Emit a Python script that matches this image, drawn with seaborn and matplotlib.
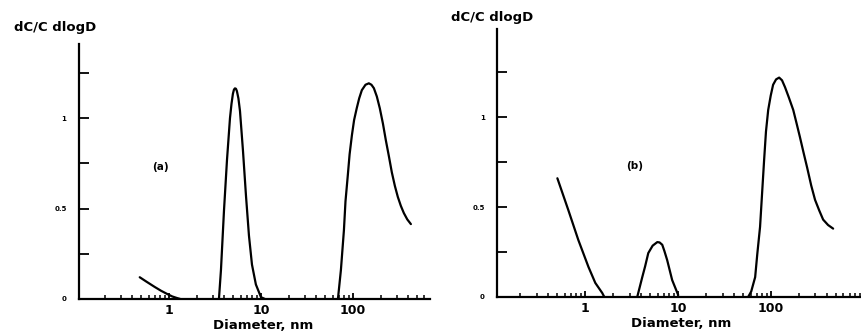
import matplotlib

matplotlib.use("Agg")

import matplotlib.pyplot as plt
import seaborn as sns
from matplotlib.ticker import FixedLocator, FixedFormatter, LogLocator, NullFormatter


# panel (a) curves, diameter in nm and dC/C dlogD
A_SMALL_D = [0.48, 0.57, 0.70, 0.82, 0.95, 1.08, 1.22, 1.32]
A_SMALL_V = [0.12, 0.095, 0.066, 0.045, 0.028, 0.014, 0.005, 0.0]

A_MID_D = [3.49, 3.67, 3.96, 4.27, 4.60, 4.78, 4.95, 5.08, 5.21, 5.34, 5.47, 5.68,
           5.91, 6.37, 6.87, 7.40, 7.98, 8.80, 9.99, 11.0]
A_MID_V = [0.0, 0.16, 0.49, 0.77, 1.0, 1.08, 1.135, 1.158, 1.165, 1.163, 1.15, 1.11,
           1.04, 0.82, 0.57, 0.35, 0.19, 0.08, 0.01, 0.0]

A_BIG_D = [68.7, 74, 79.8, 83, 88, 92, 97.5, 103, 110, 117, 125, 137, 149, 159, 169,
           182, 196, 212, 228, 246, 265, 286, 308, 332, 358, 390, 427]
A_BIG_V = [0.0, 0.16, 0.38, 0.54, 0.685, 0.80, 0.906, 0.99, 1.055, 1.11, 1.155, 1.185,
           1.193, 1.185, 1.166, 1.12, 1.055, 0.97, 0.878, 0.79, 0.70, 0.625, 0.564,
           0.515, 0.475, 0.44, 0.414]

# panel (b) curves
B_SMALL_D = [0.50, 0.656, 0.84, 1.08, 1.28, 1.52, 1.60]
B_SMALL_V = [0.66, 0.483, 0.317, 0.167, 0.078, 0.022, 0.0]

B_MID_D = [3.62, 4.1, 4.4, 4.76, 5.3, 5.95, 6.3, 6.73, 7.1, 7.6, 8.6, 10.0]
B_MID_V = [0.0, 0.11, 0.17, 0.244, 0.285, 0.305, 0.303, 0.29, 0.255, 0.205, 0.094, 0.01]

B_BIG_D = [56.6, 61, 67.3, 71, 76, 80, 84, 88, 93, 99, 105, 113, 122, 131, 141, 155,
           173, 188, 204, 224, 244, 270, 297, 330, 363, 410, 465]
B_BIG_V = [0.0, 0.03, 0.11, 0.24, 0.39, 0.58, 0.76, 0.92, 1.04, 1.12, 1.18, 1.21, 1.22,
           1.205, 1.167, 1.11, 1.04, 0.965, 0.89, 0.80, 0.72, 0.62, 0.54, 0.48, 0.43,
           0.40, 0.38]

Y_TICKS = [0, 0.25, 0.5, 0.75, 1.0, 1.25]
Y_TICK_LABELS = ["0", "", "0.5", "", "1", ""]
X_MAJOR = [1, 10, 100]
X_MAJOR_LABELS = ["1", "10", "100"]


def style_panel(ax, xlim, ylim, tag, tag_pos, xlabel_pos, ylabel_pos):
    ax.set_xscale("log")
    ax.set_xlim(*xlim)
    ax.set_ylim(*ylim)
    sns.despine(ax=ax)
    for side in ["left", "bottom"]:
        ax.spines[side].set_linewidth(1.6)
        ax.spines[side].set_color("black")

    ax.xaxis.set_major_locator(FixedLocator(X_MAJOR))
    ax.xaxis.set_major_formatter(FixedFormatter(X_MAJOR_LABELS))
    ax.xaxis.set_minor_locator(LogLocator(base=10, subs=range(2, 10)))
    ax.xaxis.set_minor_formatter(NullFormatter())
    ax.yaxis.set_major_locator(FixedLocator(Y_TICKS))
    ax.yaxis.set_major_formatter(FixedFormatter(Y_TICK_LABELS))
    ax.yaxis.set_minor_locator(FixedLocator([]))

    ax.tick_params(axis="x", which="major", direction="in", length=4, width=1.3,
                   pad=4, labelsize=9, colors="black")
    ax.tick_params(axis="x", which="minor", direction="in", length=3, width=1.1,
                   colors="black")
    ax.tick_params(axis="y", which="major", direction="in", length=7, width=1.3,
                   pad=9, labelsize=5, colors="black")
    for label in ax.get_xticklabels() + ax.get_yticklabels():
        label.set_fontweight("bold")

    ax.set_xlabel("Diameter, nm", fontsize=9.5, fontweight="bold", color="black")
    ax.xaxis.set_label_coords(*xlabel_pos)
    ax.set_ylabel("dC/C dlogD", fontsize=9.5, fontweight="bold", rotation=0,
                  ha="center", color="black")
    ax.yaxis.set_label_coords(*ylabel_pos)
    ax.text(tag_pos[0], tag_pos[1], tag, fontsize=7.5, fontweight="bold",
            ha="center", va="center", color="black")
    ax.grid(False)


def main():
    sns.set_style("ticks")
    plt.rcParams["font.family"] = ["DejaVu Sans"]
    plt.rcParams["text.color"] = "black"

    fig = plt.figure(figsize=(8.62, 3.34), dpi=100)
    ax_a = fig.add_axes([0.0917, 0.105, 0.407, 0.763])
    ax_b = fig.add_axes([0.577, 0.111, 0.423, 0.802])

    for d, v in [(A_SMALL_D, A_SMALL_V), (A_MID_D, A_MID_V), (A_BIG_D, A_BIG_V)]:
        sns.lineplot(x=d, y=v, ax=ax_a, color="black", linewidth=1.6, sort=False)
    for d, v in [(B_SMALL_D, B_SMALL_V), (B_MID_D, B_MID_V), (B_BIG_D, B_BIG_V)]:
        sns.lineplot(x=d, y=v, ax=ax_b, color="black", linewidth=1.6, sort=False)

    style_panel(ax_a, (0.105, 687), (0, 1.41), "(a)", (0.8, 0.73),
                (0.524, -0.078), (-0.068, 1.04))
    style_panel(ax_b, (0.113, 951), (0, 1.49), "(b)", (3.4, 0.73),
                (0.504, -0.074), (-0.014, 1.02))

    fig.savefig("out.png", dpi=100)
    plt.close(fig)


if __name__ == "__main__":
    main()
